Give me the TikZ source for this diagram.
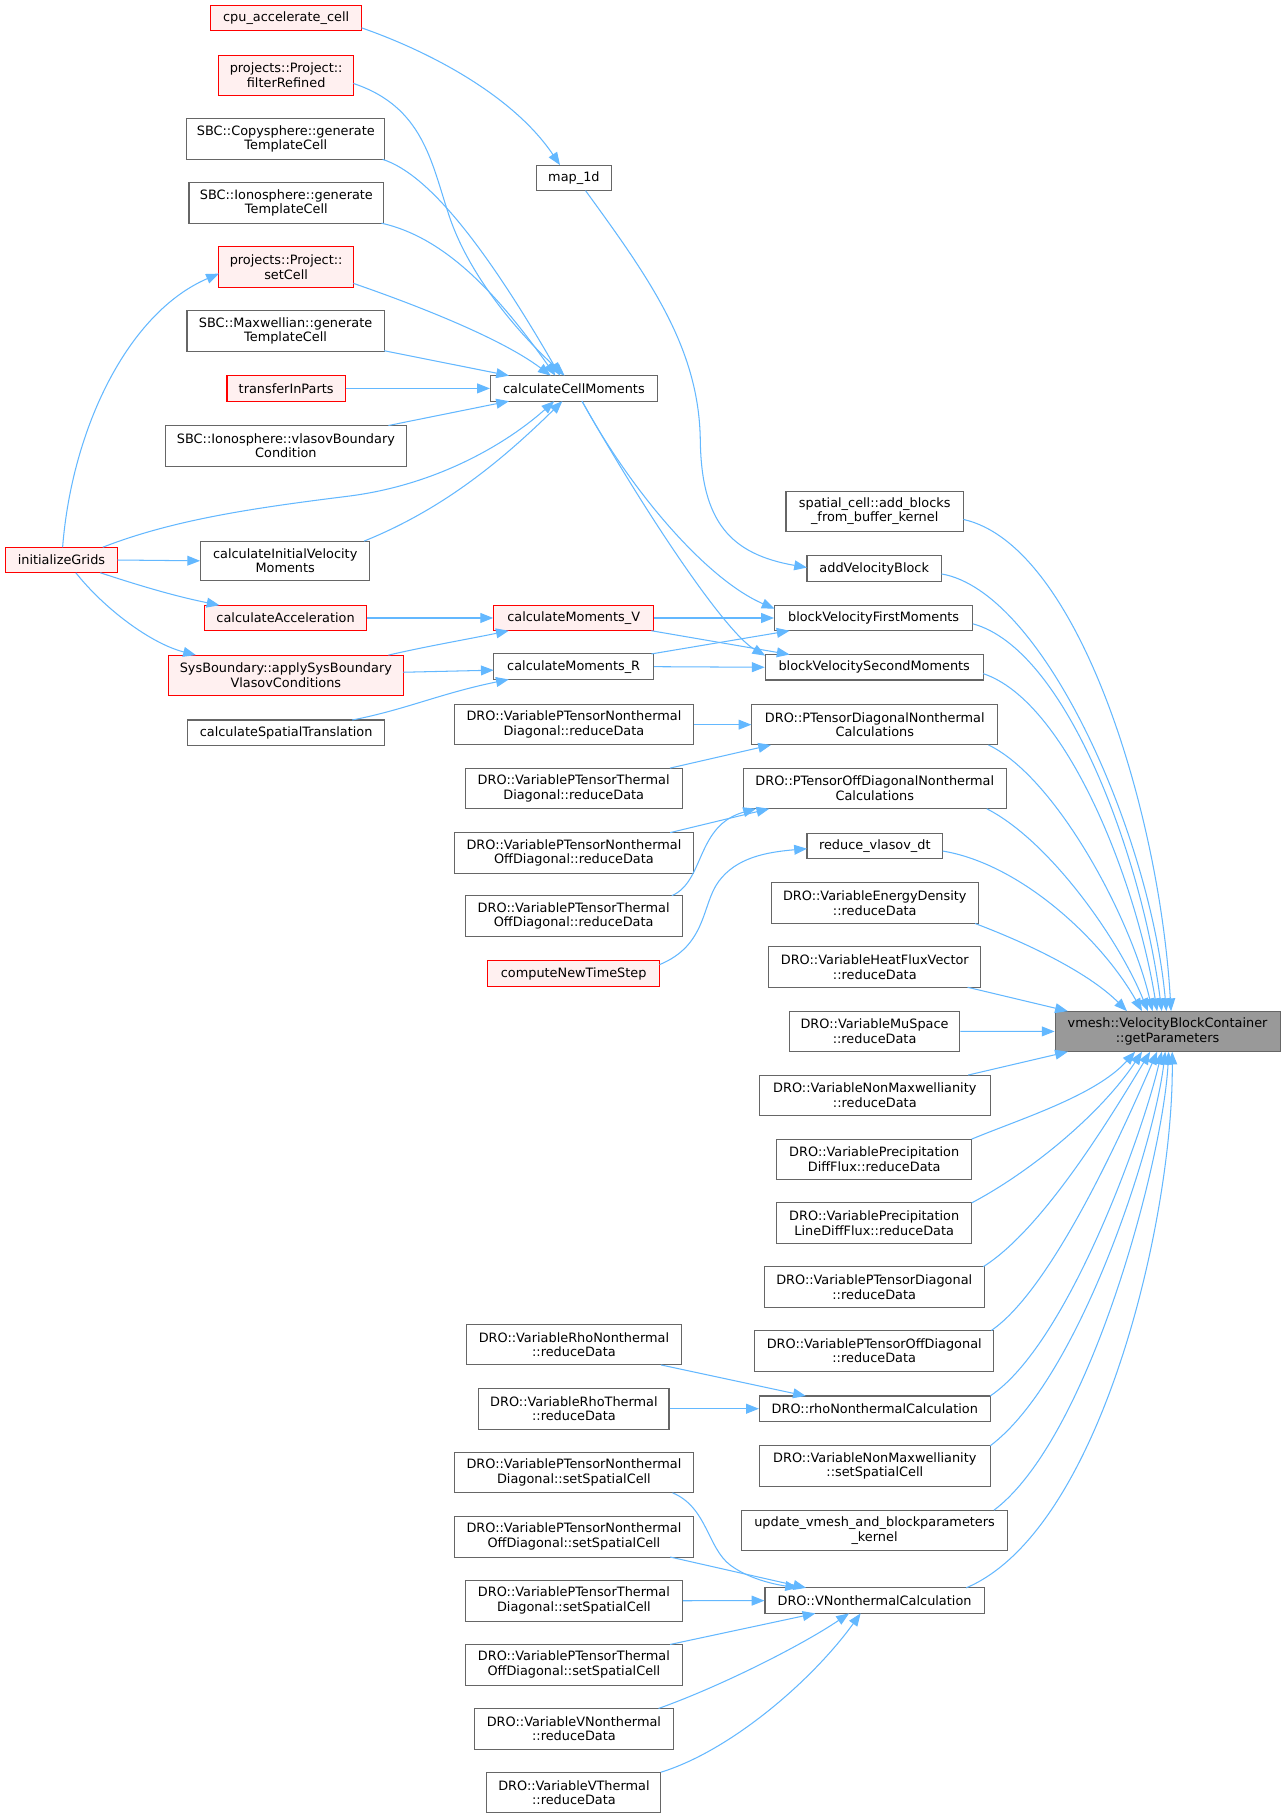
\documentclass[tikz,border=0pt]{standalone}
\usepackage{fontspec}
\setmainfont{DejaVu Sans}
\usetikzlibrary{arrows.meta}
\definecolor{edgec}{HTML}{63B8FF}
\definecolor{bordc}{HTML}{666666}
\definecolor{redfill}{HTML}{FFF0F0}
\definecolor{grayfill}{HTML}{999999}
\definecolor{redc}{HTML}{FF0000}
\newcommand\nodefont{\fontsize{11.1}{12.6}\selectfont}
\tikzset{
  nd/.style={draw=bordc, fill=white, line width=0.9pt, inner sep=0pt, align=center, font=\nodefont, anchor=center},
  rd/.style={nd, draw=redc, fill=redfill},
  gy/.style={nd, fill=grayfill},
  wh/.style 2 args={minimum width=#1pt, minimum height=#2pt},
  edge/.style={draw=edgec, line width=0.9pt, -{Triangle[length=11pt,width=8.5pt]}},
}
\begin{document}
\begin{tikzpicture}[x=1pt,y=-1pt]
\fill[white] (0,0) rectangle (1110,1568);
\useasboundingbox (0,0) rectangle (1110,1568);
% column 1
\node[rd,wh={96}{22}] (init) at (53,483) {initializeGrids};
% column 2
\node[rd,wh={130}{22}] (cpu) at (246.8,15.4) {cpu\_accelerate\_cell};
\node[rd,wh={116}{35}] (filt) at (246.8,65) {projects::Project::\\filterRefined};
\node[nd,wh={171}{35}] (copy) at (246.5,120) {SBC::Copysphere::generate\\TemplateCell};
\node[nd,wh={168}{35}] (iono) at (247,175) {SBC::Ionosphere::generate\\TemplateCell};
\node[rd,wh={116}{35}] (setc) at (246.8,230.4) {projects::Project::\\setCell};
\node[nd,wh={170}{35}] (maxw) at (246.3,285.5) {SBC::Maxwellian::generate\\TemplateCell};
\node[rd,wh={102}{22}] (trans) at (246.8,335) {transferInParts};
\node[nd,wh={208}{35}] (vlas) at (246.6,384.5) {SBC::Ionosphere::vlasovBoundary\\Condition};
\node[nd,wh={146}{34}] (civm) at (246,483.7) {calculateInitialVelocity\\Moments};
\node[rd,wh={140}{22}] (cacc) at (246.3,533) {calculateAcceleration};
\node[rd,wh={203}{35}] (sysb) at (246.5,582.5) {SysBoundary::applySysBoundary\\VlasovConditions};
\node[nd,wh={170}{22}] (cst) at (246.8,632) {calculateSpatialTranslation};
% column 3
\node[nd,wh={65}{22}] (map) at (495,153.4) {map\_1d};
\node[nd,wh={144}{22}] (ccm) at (495,335) {calculateCellMoments};
\node[rd,wh={138}{22}] (cmv) at (494.8,533) {calculateMoments\_V};
\node[nd,wh={138}{22}] (cmr) at (494.8,575) {calculateMoments\_R};
\node[nd,wh={206}{35}] (ptnd) at (495,625) {DRO::VariablePTensorNonthermal\\Diagonal::reduceData};
\node[nd,wh={187}{35}] (pttd) at (494.8,680) {DRO::VariablePTensorThermal\\Diagonal::reduceData};
\node[nd,wh={206}{35}] (ptno) at (495,735.6) {DRO::VariablePTensorNonthermal\\OffDiagonal::reduceData};
\node[nd,wh={187}{35}] (ptto) at (494.8,790) {DRO::VariablePTensorThermal\\OffDiagonal::reduceData};
\node[rd,wh={148}{22}] (cnts) at (494.8,839.7) {computeNewTimeStep};
\node[nd,wh={185}{35}] (rhon) at (495,1159.7) {DRO::VariableRhoNonthermal\\::reduceData};
\node[nd,wh={164}{35}] (rhot) at (495,1215) {DRO::VariableRhoThermal\\::reduceData};
\node[nd,wh={206}{35}] (sndg) at (495,1270) {DRO::VariablePTensorNonthermal\\Diagonal::setSpatialCell};
\node[nd,wh={206}{35}] (snod) at (495,1325.4) {DRO::VariablePTensorNonthermal\\OffDiagonal::setSpatialCell};
\node[nd,wh={187}{35}] (stdg) at (495,1380.6) {DRO::VariablePTensorThermal\\Diagonal::setSpatialCell};
\node[nd,wh={187}{35}] (stod) at (495,1435.8) {DRO::VariablePTensorThermal\\OffDiagonal::setSpatialCell};
\node[nd,wh={171}{35}] (vnon) at (495,1491) {DRO::VariableVNonthermal\\::reduceData};
\node[nd,wh={150}{35}] (vth) at (495,1546) {DRO::VariableVThermal\\::reduceData};
% column 4
\node[nd,wh={153}{35}] (addb) at (754.4,441) {spatial\_cell::add\_blocks\\\_from\_buffer\_kernel};
\node[nd,wh={116}{22}] (avb) at (754,490.5) {addVelocityBlock};
\node[nd,wh={171}{22}] (bvf) at (753.5,533) {blockVelocityFirstMoments};
\node[nd,wh={188}{22}] (bvs) at (754,575.5) {blockVelocitySecondMoments};
\node[nd,wh={212}{35}] (pdnc) at (754.5,625) {DRO::PTensorDiagonalNonthermal\\Calculations};
\node[nd,wh={227}{35}] (podn) at (754.5,680) {DRO::PTensorOffDiagonalNonthermal\\Calculations};
\node[nd,wh={117}{22}] (rvd) at (754.5,729.5) {reduce\_vlasov\_dt};
\node[nd,wh={179}{35}] (ened) at (754.5,779) {DRO::VariableEnergyDensity\\::reduceData};
\node[nd,wh={183}{35}] (heat) at (754.5,834) {DRO::VariableHeatFluxVector\\::reduceData};
\node[nd,wh={147}{35}] (mus) at (754.3,889.5) {DRO::VariableMuSpace\\::reduceData};
\node[nd,wh={199}{35}] (nmr) at (754.5,944.7) {DRO::VariableNonMaxwellianity\\::reduceData};
\node[nd,wh={168}{35}] (pdf) at (754,1000) {DRO::VariablePrecipitation\\DiffFlux::reduceData};
\node[nd,wh={168}{35}] (pldf) at (754,1055) {DRO::VariablePrecipitation\\LineDiffFlux::reduceData};
\node[nd,wh={190}{35}] (ptd) at (754,1110) {DRO::VariablePTensorDiagonal\\::reduceData};
\node[nd,wh={206}{35}] (pto) at (754,1165) {DRO::VariablePTensorOffDiagonal\\::reduceData};
\node[nd,wh={199}{22}] (rnc) at (754.5,1215) {DRO::rhoNonthermalCalculation};
\node[nd,wh={199}{35}] (nms) at (754.5,1264.5) {DRO::VariableNonMaxwellianity\\::setSpatialCell};
\node[nd,wh={230}{35}] (upd) at (754.3,1320) {update\_vmesh\_and\_blockparameters\\\_kernel};
\node[nd,wh={189}{22}] (vnc) at (754.3,1380.5) {DRO::VNonthermalCalculation};
% target
\node[gy,wh={194}{35}] (gp) at (1007,889.6) {vmesh::VelocityBlockContainer\\::getParameters};

% edges
\draw[edge] ([shift={(65,8.6)}]cpu.center) .. controls (372,45) and (443,83) .. ([shift={(-12,-11)}]map.center);
\draw[edge] ([shift={(10,11)}]map.center) .. controls (560,240) and (603,300) .. (604,380) .. controls (605,450) and (630,478) .. ([shift={(-58,-1)}]avb.center);
\draw[edge] ([shift={(58,7)}]filt.center) .. controls (365,92) and (372,140) .. (387,185) .. controls (405,240) and (450,290) .. ([shift={(-8,-11)}]ccm.center);
\draw[edge] ([shift={(83.5,17.5)}]copy.center) .. controls (370,150) and (420,215) .. ([shift={(-12,-11)}]ccm.center);
\draw[edge] ([shift={(82,17.5)}]iono.center) .. controls (385,205) and (430,255) .. ([shift={(-16,-11)}]ccm.center);
\draw[edge] ([shift={(58,14)}]setc.center) .. controls (350,260) and (430,290) .. ([shift={(-20,-11)}]ccm.center);
\draw[edge] ([shift={(85,17)}]maxw.center) -- ([shift={(-56,-11)}]ccm.center);
\draw[edge] (trans.east) -- (ccm.west);
\draw[edge] ([shift={(88.4,-17.5)}]vlas.center) -- ([shift={(-56,11)}]ccm.center);
\draw[edge] ([shift={(35.6,-11)}]init.center) .. controls (150,448) and (220,438) .. (300,428) .. controls (380,418) and (440,380) .. ([shift={(-17,11)}]ccm.center);
\draw[edge] ([shift={(68,-17)}]civm.center) .. controls (380,440) and (430,400) .. ([shift={(-10,11)}]ccm.center);
\draw[edge] ([shift={(1,-11)}]init.center) .. controls (62,370) and (110,270) .. ([shift={(-58,5.6)}]setc.center);
\draw[edge] (init.east) -- (civm.west);
\draw[edge] ([shift={(33.5,11)}]init.center) .. controls (120,505) and (150,514) .. ([shift={(-57,-11)}]cacc.center);
\draw[edge] ([shift={(12.4,11)}]init.center) .. controls (90,525) and (130,555) .. ([shift={(-77.5,-17.5)}]sysb.center);
\draw[edge] (cacc.east) -- (cmv.west);
\draw[edge] ([shift={(88.5,-17.5)}]sysb.center) .. controls (370,557) and (400,552) .. ([shift={(-56,11)}]cmv.center);
\draw[edge] ([shift={(101.5,-2.7)}]sysb.center) -- ([shift={(-69,3)}]cmr.center);
\draw[edge] ([shift={(57,-11)}]cst.center) .. controls (350,612) and (380,598) .. ([shift={(-56,11)}]cmr.center);
\draw[edge] ([shift={(7,11)}]ccm.center) .. controls (545,425) and (610,500) .. ([shift={(-85.5,-8)}]bvf.center);
\draw[edge] ([shift={(7,11)}]ccm.center) .. controls (555,440) and (625,545) .. ([shift={(-94,-10)}]bvs.center);
\draw[edge] (cmv.east) -- (bvf.west);
\draw[edge] ([shift={(67,11)}]cmv.center) -- ([shift={(-73,-11)}]bvs.center);
\draw[edge] ([shift={(67,-11)}]cmr.center) -- ([shift={(-72.5,11)}]bvf.center);
\draw[edge] (cmr.east) -- (bvs.west);
\draw[edge] (ptnd.east) -- (pdnc.west);
\draw[edge] ([shift={(83,-17.5)}]pttd.center) -- ([shift={(-89.5,17.5)}]pdnc.center);
\draw[edge] ([shift={(83,-17.5)}]ptno.center) -- ([shift={(-91,17.5)}]podn.center);
\draw[edge] ([shift={(84.7,-17.5)}]ptto.center) .. controls (608,760) and (600,712) .. ([shift={(-102.5,17.5)}]podn.center);
\draw[edge] ([shift={(74,-7.7)}]cnts.center) .. controls (610,815) and (605,780) .. (620,760) .. controls (635,740) and (660,735) .. ([shift={(-58.5,2.5)}]rvd.center);
\draw[edge] ([shift={(75,17.5)}]rhon.center) -- ([shift={(-59.5,-11)}]rnc.center);
\draw[edge] (rhot.east) -- (rnc.west);
\draw[edge] ([shift={(85,17.5)}]sndg.center) .. controls (610,1300) and (610,1335) .. (630,1350) .. controls (645,1361) and (665,1366) .. ([shift={(-66,-11)}]vnc.center);
\draw[edge] ([shift={(83,17.5)}]snod.center) -- ([shift={(-59,-11)}]vnc.center);
\draw[edge] (stdg.east) -- (vnc.west);
\draw[edge] ([shift={(83,-17.5)}]stod.center) -- ([shift={(-51,11)}]vnc.center);
\draw[edge] ([shift={(73,-17.5)}]vnon.center) .. controls (620,1455) and (690,1420) .. ([shift={(-22,11)}]vnc.center);
\draw[edge] ([shift={(75,-17.5)}]vth.center) .. controls (630,1510) and (700,1450) .. ([shift={(-12,11)}]vnc.center);
% into getParameters
\draw[edge] ([shift={(76.5,7)}]addb.center) .. controls (930,470) and (1000,700) .. ([shift={(3,-17.5)}]gp.center);
\draw[edge] ([shift={(58,4.5)}]avb.center) .. controls (900,510) and (992,720) .. ([shift={(-1,-17.5)}]gp.center);
\draw[edge] ([shift={(85.5,5)}]bvf.center) .. controls (920,560) and (985,740) .. ([shift={(-5,-17.5)}]gp.center);
\draw[edge] ([shift={(94,5.5)}]bvs.center) .. controls (920,605) and (980,760) .. ([shift={(-9,-17.5)}]gp.center);
\draw[edge] ([shift={(98,17.5)}]pdnc.center) .. controls (910,670) and (975,790) .. ([shift={(-13,-17.5)}]gp.center);
\draw[edge] ([shift={(96.5,17.5)}]podn.center) .. controls (905,725) and (965,810) .. ([shift={(-17,-17.5)}]gp.center);
\draw[edge] ([shift={(58.5,4.5)}]rvd.center) .. controls (880,745) and (950,810) .. ([shift={(-22,-17.5)}]gp.center);
\draw[edge] ([shift={(86.5,17.5)}]ened.center) .. controls (890,815) and (940,840) .. ([shift={(-35,-17.5)}]gp.center);
\draw[edge] ([shift={(80,17.5)}]heat.center) -- ([shift={(-86,-17.5)}]gp.center);
\draw[edge] (mus.east) -- (gp.west);
\draw[edge] ([shift={(80.5,-17.5)}]nmr.center) -- ([shift={(-86,17.5)}]gp.center);
\draw[edge] ([shift={(84,-17.5)}]pdf.center) .. controls (880,965) and (945,945) .. ([shift={(-28,17.5)}]gp.center);
\draw[edge] ([shift={(84,-17.5)}]pldf.center) .. controls (890,1010) and (950,960) .. ([shift={(-22,17.5)}]gp.center);
\draw[edge] ([shift={(94,-17.5)}]ptd.center) .. controls (900,1060) and (960,960) .. ([shift={(-15,17.5)}]gp.center);
\draw[edge] ([shift={(101,-17.5)}]pto.center) .. controls (910,1110) and (975,960) .. ([shift={(-9,17.5)}]gp.center);
\draw[edge] ([shift={(99.5,-11)}]rnc.center) .. controls (920,1160) and (985,980) .. ([shift={(-5,17.5)}]gp.center);
\draw[edge] ([shift={(99.5,-17.5)}]nms.center) .. controls (930,1190) and (995,990) .. ([shift={(-2,17.5)}]gp.center);
\draw[edge] ([shift={(103,-17.5)}]upd.center) .. controls (940,1240) and (1003,1000) .. ([shift={(1,17.5)}]gp.center);
\draw[edge] ([shift={(79,-11)}]vnc.center) .. controls (950,1320) and (1012,1050) .. ([shift={(4,17.5)}]gp.center);
\end{tikzpicture}
\end{document}
